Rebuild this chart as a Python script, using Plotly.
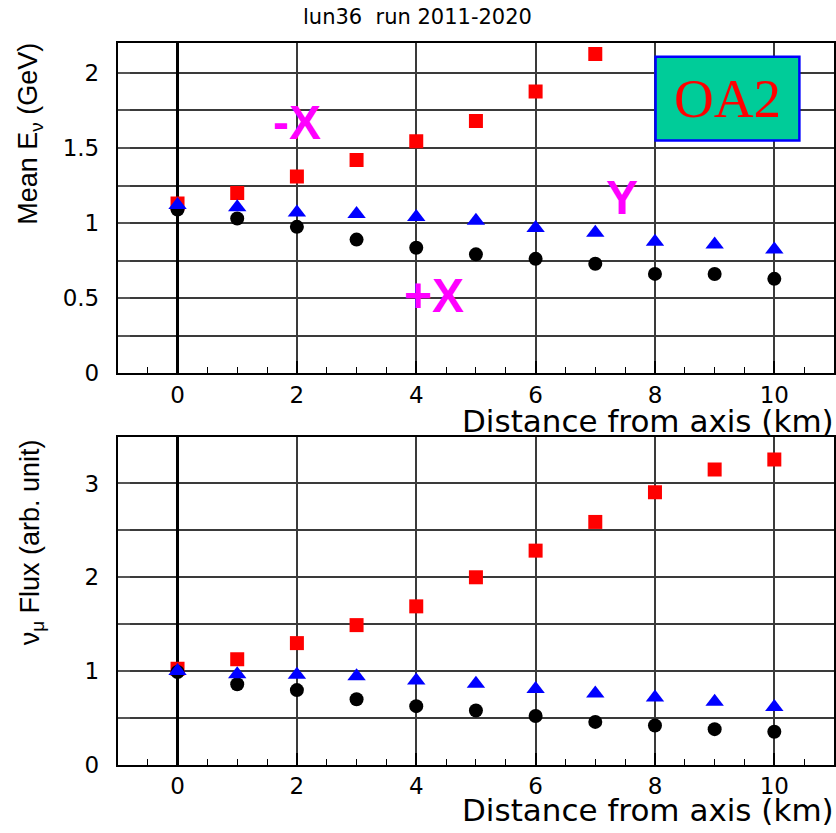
import plotly.graph_objects as go

# ---------------- data ----------------
distance = [0, 1, 2, 3, 4, 5, 6, 7, 8, 9, 10]

# Mean neutrino energy (GeV)
energy_minus_x = [1.13, 1.20, 1.31, 1.42, 1.545, 1.68, 1.875, 2.125]   # red squares (-X)
energy_y = [1.12, 1.105, 1.07, 1.06, 1.04, 1.015, 0.967, 0.936, 0.876, 0.858, 0.825]  # blue triangles (Y)
energy_plus_x = [1.09, 1.03, 0.975, 0.89, 0.836, 0.792, 0.762, 0.729, 0.662, 0.661, 0.629]  # black circles (+X)

# nu_mu flux (arb. unit)
flux_minus_x = [1.025, 1.126, 1.298, 1.49, 1.69, 2.0, 2.284, 2.59, 2.907, 3.15, 3.256]
flux_y = [1.0, 0.965, 0.96, 0.945, 0.90, 0.866, 0.808, 0.76, 0.717, 0.673, 0.616]
flux_plus_x = [0.99, 0.86, 0.797, 0.70, 0.626, 0.58, 0.521, 0.458, 0.42, 0.381, 0.353]

x_tick_vals = [0, 2, 4, 6, 8, 10]
top_tick_vals = [0, 0.5, 1, 1.5, 2]
top_tick_text = ["0", "0.5", "1", "1.5", "2"]
bot_tick_vals = [0, 1, 2, 3]
bot_tick_text = ["0", "1", "2", "3"]

title_text = "lun36  run 2011-2020"

# ---------------- figure ----------------
W, H = 836, 833
fig = go.Figure()

def add_series(xs, ys, symbol, color, size, xa, ya):
    fig.add_trace(go.Scatter(
        x=xs[:len(ys)], y=ys, mode="markers",
        marker=dict(symbol=symbol, color=color, size=size, line=dict(width=0)),
        xaxis=xa, yaxis=ya, showlegend=False, hoverinfo="x+y"))

for xa, ya, red, blk, blu in [("x", "y", energy_minus_x, energy_plus_x, energy_y),
                               ("x2", "y2", flux_minus_x, flux_plus_x, flux_y)]:
    add_series(distance, red, "square", "#FF0000", 14, xa, ya)
    add_series(distance, blk, "circle", "#000000", 14, xa, ya)
    add_series(distance, blu, "triangle-up", "#0000FF", 16, xa, ya)

font_ticks = dict(family="DejaVu Sans", size=23, color="black")
xdom = [118 / W, 835 / W]

def xaxis_cfg(anchor):
    return dict(
        domain=xdom, range=[-1, 11], anchor=anchor,
        tickmode="array", tickvals=x_tick_vals,
        ticks="inside", ticklen=12, tickwidth=1.5, tickcolor="black",
        showgrid=True, gridcolor="#3a3a3a", gridwidth=1.5,
        zeroline=True, zerolinecolor="black", zerolinewidth=2.5,
        showline=True, linecolor="black", linewidth=2, mirror=True,
        tickfont=font_ticks, ticklabelstandoff=0,
        minor=dict(tickmode="linear", tick0=0, dtick=0.5, ticks="inside",
                   ticklen=6, tickwidth=1, tickcolor="black", showgrid=False),
    )

def yaxis_cfg(anchor, dom, rng, vals, text, grid_dt):
    return dict(
        domain=dom, range=rng, anchor=anchor,
        tickmode="array", tickvals=vals, ticktext=text,
        ticks="inside", ticklen=12, tickwidth=1.5, tickcolor="#555",
        showgrid=True, gridcolor="#3a3a3a", gridwidth=1.5,
        zeroline=False,
        showline=True, linecolor="black", linewidth=2, mirror=True,
        tickfont=font_ticks, ticklabelstandoff=12,
        minor=dict(tickmode="linear", tick0=0, dtick=grid_dt, ticks="inside",
                   ticklen=12, tickwidth=1.5, tickcolor="#555",
                   showgrid=True, gridcolor="#3a3a3a", gridwidth=1.5),
    )

def yaxis_minor_cfg(overlay, anchor, rng, dt):
    return dict(
        overlaying=overlay, anchor=anchor, range=rng, side="left",
        tickmode="linear", tick0=0, dtick=dt, ticks="inside", ticklen=6,
        tickwidth=1, tickcolor="#555", showticklabels=False,
        showgrid=False, zeroline=False, showline=False,
    )

top_dom = [1 - 379.3 / H, 1 - 43.4 / H]
bot_dom = [1 - 777 / H, 1 - 443.5 / H]

fig.update_layout(
    width=W, height=H,
    margin=dict(l=0, r=0, t=0, b=0),
    paper_bgcolor="white", plot_bgcolor="white",
    showlegend=False,
    xaxis=xaxis_cfg("y"),
    yaxis=yaxis_cfg("x", top_dom, [0, 2.2], top_tick_vals, top_tick_text, 0.25),
    xaxis2=xaxis_cfg("y2"),
    yaxis2=yaxis_cfg("x2", bot_dom, [0, 3.5], bot_tick_vals, bot_tick_text, 0.5),
    yaxis3=yaxis_minor_cfg("y", "x", [0, 2.2], 0.05),
    yaxis4=yaxis_minor_cfg("y2", "x2", [0, 3.5], 0.1),
)

# OA2 box (in top-panel data coordinates)
fig.add_shape(type="rect", xref="x", yref="y", x0=8.01, x1=10.42, y0=1.55, y1=2.106,
              fillcolor="#00CC99", line=dict(color="#0000FF", width=2.5), layer="above")

ann = []
ann.append(dict(text="OA2", xref="x", yref="y", x=9.215, y=1.828, showarrow=False,
                font=dict(family="Liberation Serif", size=55, color="#FF0000")))
mag = dict(family="Liberation Sans", size=48, color="#FF00FF", weight="bold")
ann.append(dict(text="<b>-X</b>", xref="x", yref="y", x=2.01, y=1.67, showarrow=False, font=mag))
ann.append(dict(text="<b>+X</b>", xref="x", yref="y", x=4.30, y=0.52, showarrow=False, font=mag))
ann.append(dict(text="<b>Y</b>", xref="x", yref="y", x=7.44, y=1.17, showarrow=False, font=mag))

# title
ann.append(dict(text=title_text, xref="paper", yref="paper", x=418 / W, y=1 - 17 / H,
                xanchor="center", yanchor="middle", showarrow=False,
                font=dict(family="DejaVu Sans", size=21, color="black")))

# x-axis titles
xt_font = dict(family="DejaVu Sans", size=31, color="black")
for yc in (428, 823):
    ann.append(dict(text="Distance from axis (km)", xref="paper", yref="paper",
                    x=837 / W, y=1 - yc / H, xanchor="right", yanchor="middle",
                    showarrow=False, font=xt_font))

# y-axis titles
yt_font = dict(family="Liberation Sans", size=27, color="black")
ann.append(dict(text="Mean E<sub>ν</sub> (GeV)", xref="paper", yref="paper",
                x=30 / W, y=1 - 136 / H, xanchor="center", yanchor="middle",
                textangle=-90, showarrow=False, font=yt_font))
ann.append(dict(text="ν<sub>μ</sub> Flux (arb. unit)", xref="paper", yref="paper",
                x=32 / W, y=1 - 551 / H, xanchor="center", yanchor="middle",
                textangle=-90, showarrow=False, font=yt_font))

fig.update_layout(annotations=ann)

fig.write_html("out.html")
